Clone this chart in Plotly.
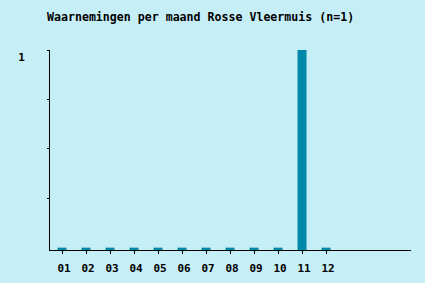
import plotly.graph_objects as go

months = ["01", "02", "03", "04", "05", "06", "07", "08", "09", "10", "11", "12"]
counts = [0, 0, 0, 0, 0, 0, 0, 0, 0, 0, 1, 0]
y_ticks = [0.25, 0.5, 0.75, 1]
y_tick_labels = ["", "", "", "1"]
title_text = "Waarnemingen per maand Rosse Vleermuis (n=1)"

BG = "#C6EEF6"
BAR = "#0088A8"
FONT = "DejaVu Sans Mono"
YMIN = -0.012

xpos = list(range(1, len(months) + 1))
# bars start at the bottom of the axis so empty months show a small stub
bar_heights = [c - YMIN for c in counts]

fig = go.Figure()
fig.add_trace(go.Bar(
    x=xpos, y=bar_heights, base=YMIN, width=0.375,
    marker=dict(color=BAR, line=dict(width=0)),
    hoverinfo="skip",
))

fig.update_layout(
    width=425, height=283,
    margin=dict(l=50, r=14, t=50, b=33, autoexpand=False),
    paper_bgcolor=BG, plot_bgcolor=BG,
    showlegend=False,
    font=dict(family=FONT, size=11, color="black", weight="bold"),
    title=dict(
        text=title_text, xref="container", yref="container",
        x=47 / 425, xanchor="left", y=1 - 16.5 / 283, yanchor="middle",
        font=dict(family=FONT, size=11.6, color="black", weight="bold"),
    ),
    xaxis=dict(
        range=[0.5, 15.54], tickvals=xpos, ticktext=months,
        showgrid=False, zeroline=False, showline=True, linecolor="black", linewidth=1,
        ticks="outside", ticklen=3, tickcolor="black", tickwidth=1,
        ticklabelstandoff=5, ticklabelshift=2, automargin=False,
        tickfont=dict(family=FONT, size=11, color="black", weight="bold"),
    ),
    yaxis=dict(
        range=[YMIN, 1], tickvals=y_ticks, ticktext=y_tick_labels,
        showgrid=False, zeroline=False, showline=True, linecolor="black", linewidth=1,
        ticks="outside", ticklen=2, tickcolor="black", tickwidth=1,
        ticklabelstandoff=20, ticklabelshift=7, automargin=False,
        tickfont=dict(family=FONT, size=11, color="black", weight="bold"),
    ),
)

fig.write_html("out.html")
